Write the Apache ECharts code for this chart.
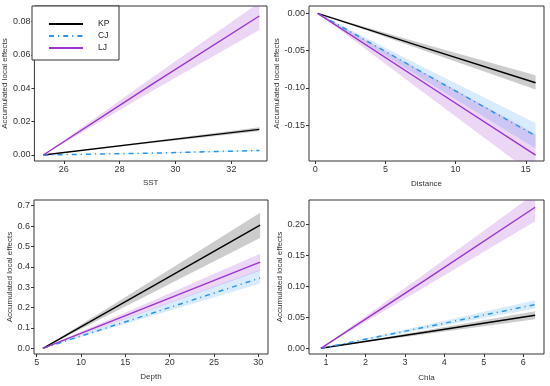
<!DOCTYPE html>
<html>
<head>
<meta charset="utf-8">
<script src="https://cdn.jsdelivr.net/npm/echarts@6/dist/echarts.min.js"></script>
<style>
html,body{margin:0;padding:0;background:#fff;}
#c{width:550px;height:386px;}
</style>
</head>
<body>
<div id="c"></div>
<script>
// ---------- Panel 1: SST ----------
const sstX = [25.27, 29.1, 33.0];
const sstKP = [0, 0.0077, 0.0154];
const sstKPlo = [0, 0.0071, 0.0142];
const sstKPhi = [0, 0.0083, 0.0166];
const sstCJ = [0, 0.0011, 0.0027];
const sstCJlo = [0, 0.0009, 0.0023];
const sstCJhi = [0, 0.0013, 0.0031];
const sstLJ = [0, 0.0418, 0.0834];
const sstLJlo = [0, 0.0378, 0.0750];
const sstLJhi = [0, 0.0458, 0.0915];
const sstXTicks = [26, 28, 30, 32];
const sstYTicks = [0, 0.02, 0.04, 0.06, 0.08];

// ---------- Panel 2: Distance ----------
const distX = [0.17, 8.0, 15.7];
const distKP = [0, -0.0473, -0.093];
const distKPlo = [0, -0.0515, -0.102];
const distKPhi = [0, -0.0425, -0.083];
const distCJ = [0, -0.083, -0.164];
const distCJlo = [0, -0.092, -0.181];
const distCJhi = [0, -0.075, -0.147];
const distLJ = [0, -0.096, -0.190];
const distLJlo = [0, -0.110, -0.218];
const distLJhi = [0, -0.082, -0.162];
const distXTicks = [0, 5, 10, 15];
const distYTicks = [0, -0.05, -0.10, -0.15];

// ---------- Panel 3: Depth ----------
const depX = [5.7, 18.0, 30.2];
const depKP = [0, 0.303, 0.605];
const depKPlo = [0, 0.272, 0.542];
const depKPhi = [0, 0.333, 0.665];
const depCJ = [0, 0.172, 0.345];
const depCJlo = [0, 0.159, 0.318];
const depCJhi = [0, 0.193, 0.385];
const depLJ = [0, 0.212, 0.423];
const depLJlo = [0, 0.191, 0.381];
const depLJhi = [0, 0.232, 0.464];
const depXTicks = [5, 10, 15, 20, 25, 30];
const depYTicks = [0, 0.1, 0.2, 0.3, 0.4, 0.5, 0.6, 0.7];

// ---------- Panel 4: Chla ----------
const chlX = [0.87, 3.6, 6.3];
const chlKP = [0, 0.0266, 0.0532];
const chlKPlo = [0, 0.0236, 0.047];
const chlKPhi = [0, 0.030, 0.0598];
const chlCJ = [0, 0.0352, 0.0705];
const chlCJlo = [0, 0.032, 0.064];
const chlCJhi = [0, 0.0388, 0.0776];
const chlLJ = [0, 0.1137, 0.2275];
const chlLJlo = [0, 0.1027, 0.205];
const chlLJhi = [0, 0.1247, 0.250];
const chlXTicks = [1, 2, 3, 4, 5, 6];
const chlYTicks = [0, 0.05, 0.10, 0.15, 0.20];

const groups = ['KP', 'CJ', 'LJ'];
const lineColor = {KP: '#000000', CJ: '#2b95ec', LJ: '#9a33cf'};
const ribbonColor = {KP: 'rgba(0,0,0,0.2)', CJ: 'rgba(30,144,255,0.17)', LJ: 'rgba(153,50,204,0.2)'};
const lineType = {KP: 'solid', CJ: [5, 4, 1.2, 4], LJ: 'solid'};

const panels = [
  {name: 'SST', x: sstX, vals: {KP: [sstKP, sstKPlo, sstKPhi], CJ: [sstCJ, sstCJlo, sstCJhi], LJ: [sstLJ, sstLJlo, sstLJhi]},
   xt: sstXTicks, yt: sstYTicks, dec: 2, xr: [24.95, 33.275], yr: [-0.0036, 0.0894],
   grid: {left: 32, top: 6, width: 235, height: 155}, yGap: 18.5, xGap: 17.5},
  {name: 'Distance', x: distX, vals: {KP: [distKP, distKPlo, distKPhi], CJ: [distCJ, distCJlo, distCJhi], LJ: [distLJ, distLJlo, distLJhi]},
   xt: distXTicks, yt: distYTicks, dec: 2, xr: [-0.449, 16.30], yr: [-0.1978, 0.0098],
   grid: {left: 309, top: 6, width: 235, height: 155}, yGap: 25.5, xGap: 19},
  {name: 'Depth', x: depX, vals: {KP: [depKP, depKPlo, depKPhi], CJ: [depCJ, depCJlo, depCJhi], LJ: [depLJ, depLJlo, depLJhi]},
   xt: depXTicks, yt: depYTicks, dec: 1, xr: [4.695, 31.09], yr: [-0.028, 0.728],
   grid: {left: 34, top: 200, width: 234, height: 154}, yGap: 20.5, xGap: 19},
  {name: 'Chla', x: chlX, vals: {KP: [chlKP, chlKPlo, chlKPhi], CJ: [chlCJ, chlCJlo, chlCJhi], LJ: [chlLJ, chlLJlo, chlLJhi]},
   xt: chlXTicks, yt: chlYTicks, dec: 2, xr: [0.569, 6.525], yr: [-0.0092, 0.2392],
   grid: {left: 309, top: 200, width: 235, height: 154}, yGap: 25.5, xGap: 20}
];

const FONT = 'Liberation Sans, Arial, sans-serif';
const grids = [], xAxes = [], yAxes = [], series = [];

function pairs(x, y) { return x.map((v, i) => [v, y[i]]); }

panels.forEach((p, i) => {
  grids.push(Object.assign({show: true, borderColor: '#333', borderWidth: 1, backgroundColor: 'transparent', containLabel: false}, p.grid));
  xAxes.push({
    type: 'value', gridIndex: i, min: p.xr[0], max: p.xr[1],
    name: p.name, nameLocation: 'middle', nameGap: p.xGap,
    nameTextStyle: {fontFamily: FONT, fontSize: 8, color: '#333'},
    axisLine: {show: false, onZero: false},
    axisTick: {show: true, length: 3, lineStyle: {color: '#333'}, customValues: p.xt},
    axisLabel: {fontFamily: FONT, fontSize: 9, color: '#333', margin: 4, customValues: p.xt,
      formatter: v => String(v)},
    splitLine: {show: false}
  });
  yAxes.push({
    type: 'value', gridIndex: i, min: p.yr[0], max: p.yr[1],
    name: 'Accumulated local effects', nameLocation: 'middle', nameRotate: 90, nameGap: p.yGap,
    nameTextStyle: {fontFamily: FONT, fontSize: 8, color: '#333'},
    axisLine: {show: false, onZero: false},
    axisTick: {show: true, length: 3, lineStyle: {color: '#333'}, customValues: p.yt},
    axisLabel: {fontFamily: FONT, fontSize: 9, color: '#333', margin: 4, customValues: p.yt,
      formatter: v => Number(v).toFixed(p.dec)},
    splitLine: {show: false}
  });
  // ribbons (confidence bands) as polygons through the axes
  groups.forEach(g => {
    const [mid, lo, hi] = p.vals[g];
    const rows = p.x.map((v, k) => [v, lo[k], hi[k]]);
    series.push({
      type: 'custom', name: g + '_band' + i, xAxisIndex: i, yAxisIndex: i,
      data: rows, clip: true, silent: true, z: 1, animation: false,
      encode: {x: 0, y: [1, 2]},
      renderItem: function (params, api) {
        if (params.dataIndex !== 0) return null;
        const up = rows.map(r => api.coord([r[0], r[2]]));
        const dn = rows.slice().reverse().map(r => api.coord([r[0], r[1]]));
        const cs = params.coordSys;
        return {
          type: 'polygon',
          shape: {points: up.concat(dn)},
          style: {fill: ribbonColor[g], stroke: null},
          clipPath: {type: 'rect', shape: {x: cs.x, y: cs.y, width: cs.width, height: cs.height}}
        };
      }
    });
  });
  // lines
  groups.forEach(g => {
    const [mid] = p.vals[g];
    series.push({
      type: 'line', name: g, xAxisIndex: i, yAxisIndex: i,
      data: pairs(p.x, mid), symbol: 'none',
      lineStyle: {color: lineColor[g], width: g === 'CJ' ? 1.5 : 1.4, type: lineType[g]},
      itemStyle: {color: lineColor[g]},
      z: 3, animation: false
    });
  });
});

const chart = echarts.init(document.getElementById('c'), null, {renderer: 'canvas'});
chart.setOption({
  animation: false,
  backgroundColor: '#fff',
  grid: grids,
  xAxis: xAxes,
  yAxis: yAxes,
  legend: {
    data: groups, orient: 'vertical', left: 32, top: 6,
    backgroundColor: '#fff', borderColor: '#333', borderWidth: 1,
    padding: [12, 5, 6, 16], itemWidth: 34, itemHeight: 12, itemGap: 0,
    selectedMode: false,
    itemStyle: {opacity: 0},
    textStyle: {fontFamily: FONT, fontSize: 8.5, color: '#222', width: 16, padding: [0, 0, 0, 10], lineHeight: 12}
  },
  series: series
});
</script>
</body>
</html>
